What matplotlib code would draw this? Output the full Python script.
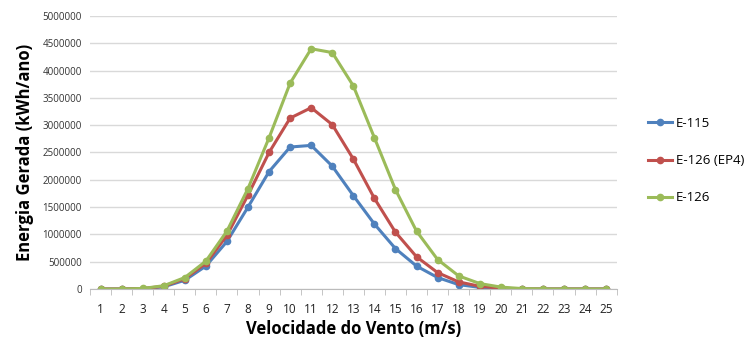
import numpy as np
import matplotlib
matplotlib.use('Agg')
import matplotlib.pyplot as plt

plt.rcParams['font.family'] = ['Open Sans', 'DejaVu Sans']

# wind speed classes (m/s)
velocidade = list(range(1, 26))

# annual energy per turbine (kWh/ano)
e115 = [0, 0, 5000, 40000, 160000, 420000, 870000, 1500000, 2150000, 2600000,
        2630000, 2250000, 1710000, 1190000, 740000, 420000, 210000, 80000,
        30000, 10000, 0, 0, 0, 0, 0]
e126_ep4 = [0, 0, 8000, 50000, 190000, 470000, 980000, 1720000, 2500000, 3130000,
            3320000, 3010000, 2380000, 1660000, 1040000, 590000, 300000, 130000,
            50000, 15000, 3000, 0, 0, 0, 0]
e126 = [0, 0, 10000, 60000, 210000, 510000, 1060000, 1840000, 2770000, 3770000,
        4400000, 4330000, 3720000, 2770000, 1820000, 1060000, 540000, 240000,
        100000, 35000, 8000, 2000, 0, 0, 0]

series = [("E-115", e115, '#4F81BD'),
          ("E-126 (EP4)", e126_ep4, '#C0504D'),
          ("E-126", e126, '#9BBB59')]

fig = plt.figure(figsize=(7.47, 3.4), dpi=100)
ax = fig.add_axes([0.1205, 0.15, 0.705, 0.803])

for nome, vals, cor in series:
    ax.plot(velocidade, vals, '-o', color=cor, lw=2.2, markersize=4.5, label=nome)

ax.set_xlim(0.5, 25.5)
ax.set_ylim(0, 5000000)
ax.set_xticks(velocidade)
ax.set_xticks(np.arange(0.5, 26, 1), minor=True)
ax.set_yticks(np.arange(0, 5000001, 500000))
ax.set_yticklabels([str(v) for v in range(0, 5000001, 500000)])
ax.tick_params(axis='x', which='major', length=0, labelsize=8.5, colors='#222222', pad=10)
ax.tick_params(axis='x', which='minor', length=4, color='#BBBBBB', direction='out')
ax.tick_params(axis='y', length=0, labelsize=7, colors='#333333', pad=6)
ax.grid(axis='y', color='#D9D9D9', lw=1)
ax.set_axisbelow(True)
for s in ['top', 'right', 'left']:
    ax.spines[s].set_visible(False)
ax.spines['bottom'].set_color('#BBBBBB')

ax.set_xlabel('Velocidade do Vento (m/s)', fontsize=12, fontweight='bold', labelpad=3)
ax.set_ylabel('Energia Gerada (kWh/ano)', fontsize=12, fontweight='bold', labelpad=6)

ax.legend(loc='center left', bbox_to_anchor=(1.059, 0.47), frameon=False,
          borderpad=0, borderaxespad=0,
          fontsize=9.5, labelspacing=1.83, handlelength=1.82, handletextpad=0.3)

fig.savefig('out.png', dpi=100)
